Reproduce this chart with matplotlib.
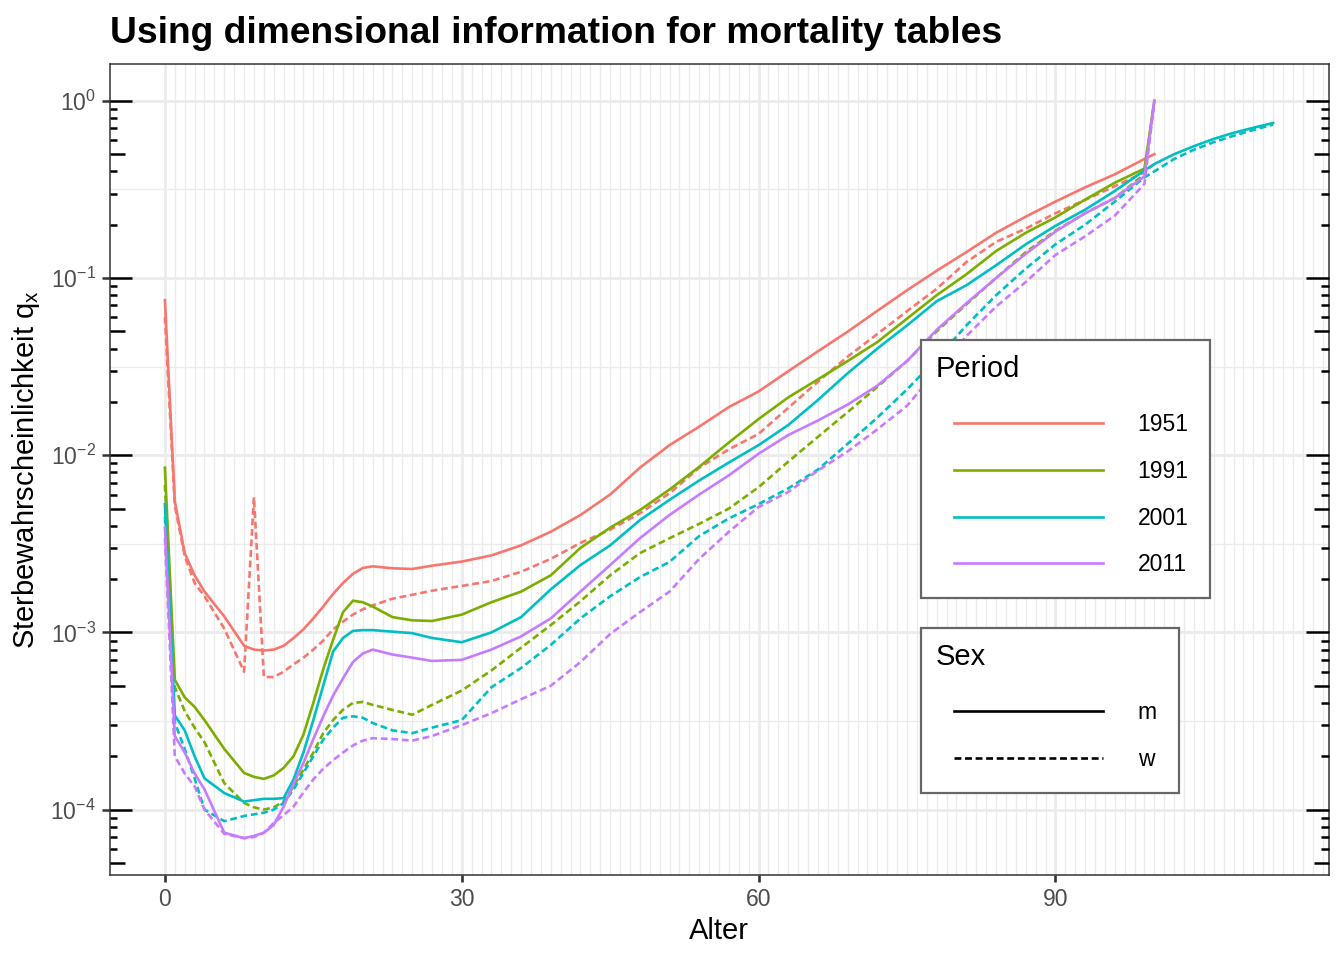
import numpy as np
import matplotlib
matplotlib.use("Agg")
import matplotlib.pyplot as plt
import matplotlib.ticker as ticker
from matplotlib.lines import Line2D
from matplotlib.legend_handler import HandlerLine2D

plt.rcParams["font.family"] = ["Liberation Sans", "DejaVu Sans"]
plt.rcParams["mathtext.fontset"] = "custom"
plt.rcParams["mathtext.rm"] = "Liberation Sans"
plt.rcParams["mathtext.it"] = "Liberation Sans:italic"

# ages shared by all tables, 2001 goes on to 112
ages = [0, 1, 2, 3, 4, 6, 8, 9, 10, 11, 12, 13, 14, 15, 16, 17, 18, 19, 20, 21,
        23, 25, 27, 30, 33, 36, 39, 42, 45, 48, 51, 54, 57, 60, 63, 66, 69, 72,
        75, 78, 81, 84, 87, 90, 93, 96, 99, 100]
ages_2001_ext = [102, 104, 106, 108, 110, 112]

q_1951_m = [0.075, 0.0055, 0.0028, 0.0021, 0.0017, 0.00123, 0.00084, 0.0008, 0.00079, 0.0008,
            0.00084, 0.00093, 0.00104, 0.0012, 0.0014, 0.00165, 0.0019, 0.00214, 0.00231, 0.00236,
            0.0023, 0.00228, 0.00238, 0.00251, 0.00272, 0.0031, 0.0037, 0.0046, 0.006, 0.0085,
            0.0114, 0.0145, 0.0187, 0.0229, 0.0298, 0.0386, 0.0498, 0.0653, 0.0853, 0.11,
            0.14, 0.18, 0.222, 0.27, 0.325, 0.385, 0.47, 0.5]
q_1951_w = [0.06, 0.0052, 0.0027, 0.0019, 0.0016, 0.00105, 0.0006, 0.0058, 0.00056, 0.00056,
            0.0006, 0.00066, 0.00072, 0.0008, 0.0009, 0.00104, 0.00115, 0.00126, 0.00135, 0.00142,
            0.00155, 0.00163, 0.00172, 0.00183, 0.00195, 0.0022, 0.0026, 0.0032, 0.0038, 0.0047,
            0.0061, 0.0085, 0.0108, 0.0132, 0.0185, 0.026, 0.036, 0.0483, 0.065, 0.087,
            0.123, 0.16, 0.19, 0.232, 0.276, 0.33, 0.395, 0.44]
q_1991_m = [0.0085, 0.00054, 0.00043, 0.00038, 0.00032, 0.00022, 0.000161, 0.000153, 0.000149, 0.000156,
            0.000172, 0.0002, 0.000265, 0.0004, 0.00062, 0.00091, 0.0013, 0.00151, 0.00148, 0.0014,
            0.00122, 0.00117, 0.00116, 0.00126, 0.00148, 0.0017, 0.0021, 0.003, 0.0039, 0.0049,
            0.0064, 0.0086, 0.0118, 0.016, 0.0212, 0.0268, 0.034, 0.0435, 0.059, 0.08,
            0.105, 0.142, 0.18, 0.22, 0.277, 0.345, 0.415, 1.0]
q_1991_w = [0.0068, 0.00049, 0.00036, 0.00029, 0.00024, 0.000141, 0.000109, 0.000103, 0.0001, 0.000103,
            0.000111, 0.000135, 0.000168, 0.00021, 0.00027, 0.00032, 0.000366, 0.0004, 0.000405, 0.00039,
            0.000365, 0.000343, 0.00039, 0.00047, 0.00061, 0.00082, 0.0011, 0.0015, 0.0021, 0.0028,
            0.0034, 0.0041, 0.005, 0.0066, 0.0092, 0.0127, 0.0175, 0.0243, 0.034, 0.05,
            0.071, 0.1, 0.14, 0.185, 0.232, 0.283, 0.385, 1.0]
q_2001_m = [0.0053, 0.00034, 0.00028, 0.0002, 0.00015, 0.000124, 0.000111, 0.000113, 0.000115, 0.000115,
            0.000116, 0.000148, 0.00021, 0.00032, 0.0005, 0.00078, 0.00093, 0.00102, 0.00103, 0.00103,
            0.00101, 0.00099, 0.00093, 0.00088, 0.001, 0.00122, 0.00175, 0.0024, 0.0031, 0.0043,
            0.0056, 0.0072, 0.0091, 0.0114, 0.0148, 0.0205, 0.029, 0.04, 0.054, 0.074,
            0.091, 0.118, 0.155, 0.197, 0.243, 0.31, 0.405, 0.44,
            0.5, 0.555, 0.61, 0.66, 0.705, 0.75]
q_2001_w = [0.0045, 0.00031, 0.00022, 0.00015, 0.0001, 0.000086, 0.000092, 0.000094, 0.000096, 0.0001,
            0.000109, 0.00013, 0.000161, 0.0002, 0.000248, 0.00029, 0.00033, 0.000336, 0.00033, 0.000308,
            0.00028, 0.00027, 0.00029, 0.00032, 0.00049, 0.00063, 0.00085, 0.0012, 0.0016, 0.00205,
            0.0025, 0.0035, 0.0044, 0.0053, 0.0065, 0.0083, 0.0116, 0.0163, 0.0235, 0.035,
            0.054, 0.08, 0.113, 0.155, 0.2, 0.27, 0.37, 0.4,
            0.47, 0.53, 0.585, 0.635, 0.685, 0.735]
q_2011_m = [0.0039, 0.00026, 0.00021, 0.00016, 0.00013, 0.000074, 0.000069, 0.000071, 0.000074, 0.000082,
            0.000104, 0.00014, 0.000183, 0.00025, 0.000336, 0.00044, 0.00055, 0.00068, 0.00076, 0.0008,
            0.00075, 0.00072, 0.00069, 0.0007, 0.0008, 0.00095, 0.0012, 0.0017, 0.0024, 0.0034,
            0.0046, 0.006, 0.0077, 0.0102, 0.013, 0.0157, 0.0193, 0.0247, 0.034, 0.051,
            0.072, 0.1, 0.137, 0.183, 0.232, 0.283, 0.375, 1.0]
q_2011_w = [0.0034, 0.0002, 0.00016, 0.000135, 0.0001, 0.000073, 0.000069, 0.00007, 0.000074, 0.000084,
            0.000093, 0.000104, 0.000125, 0.000148, 0.00017, 0.00019, 0.00021, 0.00023, 0.000245, 0.000253,
            0.00025, 0.000245, 0.00026, 0.0003, 0.00035, 0.00042, 0.0005, 0.00068, 0.00098, 0.0013,
            0.0017, 0.0026, 0.0037, 0.0051, 0.0062, 0.0082, 0.0105, 0.014, 0.019, 0.03,
            0.047, 0.069, 0.095, 0.135, 0.172, 0.225, 0.34, 1.0]

periods = ["1951", "1991", "2001", "2011"]
sexes = ["m", "w"]
period_colors = ["#F8766D", "#7CAE00", "#00BFC4", "#C77CFF"]
x_breaks = [0, 30, 60, 90]

W, H, DPI = 13.44, 9.6, 100
LEFT, RIGHT, TOP, BOTTOM = 109.5 / 1344, 1328.5 / 1344, 1 - 64 / 960, 1 - 875 / 960
LW = 1.9
DASH = (2.6, 1.4)


class KeyHandler(HandlerLine2D):
    # legend key line that starts a bit to the right of the title
    def __init__(self, shift, **kw):
        super().__init__(**kw)
        self.shift = shift

    def create_artists(self, legend, orig_handle, xdescent, ydescent, width, height, fontsize, trans):
        artists = super().create_artists(legend, orig_handle, xdescent, ydescent, width, height, fontsize, trans)
        x = artists[0].get_xdata()
        artists[0].set_xdata([x[0] + self.shift * fontsize, x[-1]])
        return artists


def add_logticks(ax, fig):
    # annotation_logticks(sides = "lr")
    ymin, ymax = ax.get_ylim()
    panel_px = fig.get_figwidth() * fig.dpi * (RIGHT - LEFT)
    lengths = {"long": 22.5 / panel_px, "mid": 15 / panel_px, "short": 7.5 / panel_px}
    trans = ax.get_yaxis_transform()
    for k in range(int(np.floor(np.log10(ymin))), int(np.ceil(np.log10(ymax))) + 1):
        for m in range(1, 10):
            y = m * 10.0 ** k
            if not (ymin <= y <= ymax):
                continue
            L = lengths["long"] if m == 1 else (lengths["mid"] if m == 5 else lengths["short"])
            ax.plot([0, L], [y, y], transform=trans, color="black", lw=1.8,
                    solid_capstyle="butt", clip_on=False, zorder=5)
            ax.plot([1 - L, 1], [y, y], transform=trans, color="black", lw=1.8,
                    solid_capstyle="butt", clip_on=False, zorder=5)


def make_legend(ax, fig, handles, labels, title, top_px):
    leg = ax.legend(handles, labels, title=title, loc="upper left",
                    bbox_to_anchor=(921 / 1344, 1 - top_px / 960), bbox_transform=fig.transFigure,
                    borderaxespad=0, fontsize=16.5, title_fontsize=21, alignment="left",
                    frameon=True, fancybox=False, framealpha=1, edgecolor="#666666",
                    handlelength=7.3, handletextpad=1.2, labelspacing=1.03, borderpad=0.65,
                    handler_map={Line2D: KeyHandler(0.2, numpoints=2)})
    leg.get_frame().set_linewidth(1.6)
    # extra room round the keys (gap below title, space at the bottom)
    leg._legend_handle_box.pad = 5
    return leg


def main():
    fig = plt.figure(figsize=(W, H), dpi=DPI)
    ax = fig.add_axes([LEFT, BOTTOM, RIGHT - LEFT, TOP - BOTTOM])

    tables = {
        ("1951", "m"): (ages, q_1951_m), ("1951", "w"): (ages, q_1951_w),
        ("1991", "m"): (ages, q_1991_m), ("1991", "w"): (ages, q_1991_w),
        ("2001", "m"): (ages + ages_2001_ext, q_2001_m),
        ("2001", "w"): (ages + ages_2001_ext, q_2001_w),
        ("2011", "m"): (ages, q_2011_m), ("2011", "w"): (ages, q_2011_w),
    }

    all_q = []
    all_x = []
    for p, col in zip(periods, period_colors):
        for s in sexes:
            x, q = tables[(p, s)]
            all_q += q
            all_x += x
            if s == "m":
                ax.plot(x, q, color=col, lw=LW, solid_joinstyle="round", zorder=3)
            else:
                ax.plot(x, q, color=col, lw=LW, dashes=DASH, zorder=3)

    ax.set_yscale("log")
    # ggplot style 5% expansion (log space for y)
    lo, hi = np.log10(min(all_q)), np.log10(max(all_q))
    pad = 0.05 * (hi - lo)
    ax.set_ylim(10 ** (lo - pad), 10 ** (hi + pad))
    xpad = 0.05 * (max(all_x) - min(all_x))
    ax.set_xlim(min(all_x) - xpad, max(all_x) + xpad)

    # ticks and grid
    ax.xaxis.set_major_locator(ticker.FixedLocator(x_breaks))
    ax.xaxis.set_minor_locator(ticker.FixedLocator(np.arange(0, 118)))
    ax.yaxis.set_major_locator(ticker.FixedLocator([1e-4, 1e-3, 1e-2, 1e-1, 1e0]))
    ax.yaxis.set_major_formatter(ticker.FuncFormatter(lambda v, _: "$10^{%d}$" % round(np.log10(v))))
    ax.yaxis.set_minor_locator(ticker.FixedLocator(10.0 ** (np.arange(-5, 1) + 0.5)))
    ax.yaxis.set_minor_formatter(ticker.NullFormatter())

    ax.grid(which="major", color="#EBEBEB", lw=1.95)
    ax.grid(which="minor", color="#EBEBEB", lw=0.97)
    ax.set_axisbelow(True)

    ax.tick_params(axis="both", which="major", direction="out", color="#333333",
                   labelcolor="#4D4D4D", labelsize=16.5)
    ax.tick_params(axis="x", which="major", length=5, width=1.9, pad=4)
    ax.tick_params(axis="y", which="major", length=5.8, width=1.8, pad=4)
    ax.tick_params(axis="both", which="minor", length=0)

    for sp in ax.spines.values():
        sp.set_color("#333333")
        sp.set_linewidth(1.1)

    add_logticks(ax, fig)

    ax.set_xlabel("Alter", fontsize=21, labelpad=5)
    ax.set_ylabel("Sterbewahrscheinlichkeit q$_\\mathregular{x}$", fontsize=21, labelpad=6)
    ax.set_title("Using dimensional information for mortality tables", loc="left",
                 fontsize=26.8, fontweight="bold", pad=15)

    # legends
    period_handles = [Line2D([], [], color=c, lw=LW) for c in period_colors]
    sex_handles = [Line2D([], [], color="black", lw=LW),
                   Line2D([], [], color="black", lw=LW, dashes=DASH)]
    leg1 = make_legend(ax, fig, period_handles, periods, "Period", 340)
    ax.add_artist(leg1)
    make_legend(ax, fig, sex_handles, sexes, "Sex", 628)

    fig.savefig("out.png", dpi=DPI)


if __name__ == "__main__":
    main()
